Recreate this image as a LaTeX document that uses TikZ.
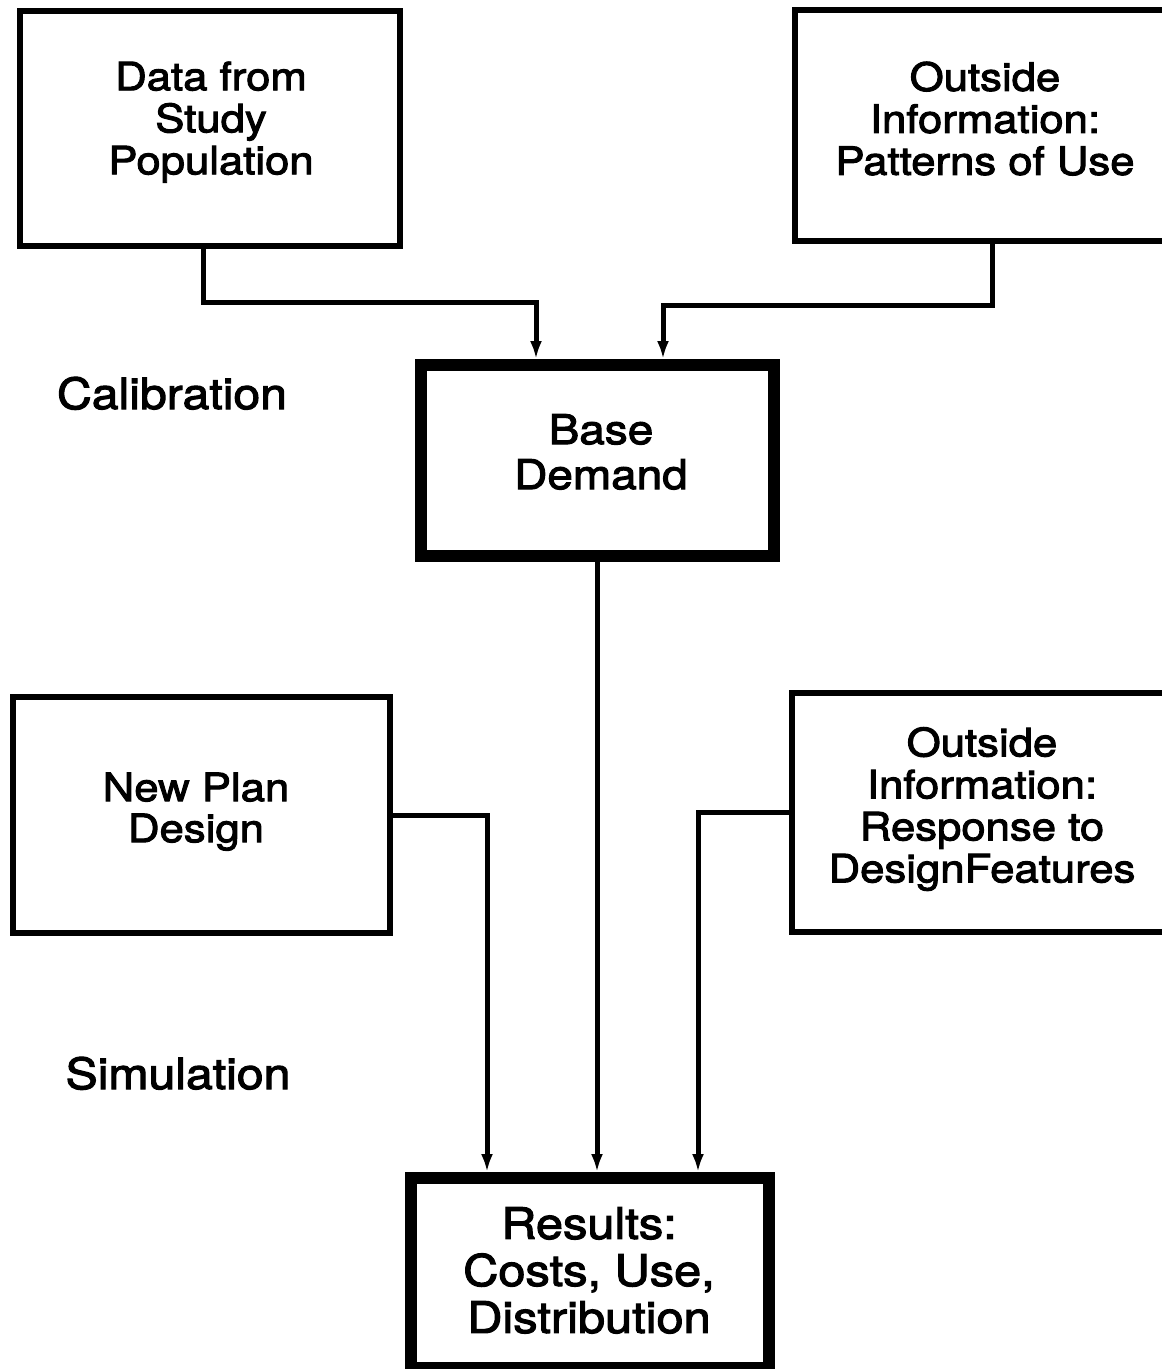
\documentclass[tikz,border=0pt]{standalone}
\usepackage{fontspec}
\setmainfont{TeX Gyre Heros}[FakeStretch=1.12,FakeBold=2.5]
\usetikzlibrary{arrows.meta}
\begin{document}
\begin{tikzpicture}[x=1pt,y=-1pt,
  thinbox/.style={draw, line width=5.5pt, inner sep=0pt},
  thickbox/.style={draw, line width=12pt, inner sep=0pt},
  conn/.style={line width=5pt, -{Latex[length=18pt,width=12pt]}},
  boxtext/.style={align=center, inner sep=0pt, anchor=north},
  sidelabel/.style={inner sep=0pt, anchor=base, font=\fontsize{43}{47}\selectfont}]
\useasboundingbox (0,0) rectangle (1162,1369);
\clip (0,0) rectangle (1162,1369);
% boxes
\node[thinbox, minimum width=380pt, minimum height=235pt] (data) at (210,128.5) {};
\node[thinbox, minimum width=373pt, minimum height=231pt] (pat) at (981.5,125.5) {};
\node[thickbox, minimum width=353pt, minimum height=191pt] (base) at (597.5,460.5) {};
\node[thinbox, minimum width=377pt, minimum height=236pt] (plan) at (201.5,815) {};
\node[thinbox, minimum width=376pt, minimum height=239pt] (resp) at (980,812.5) {};
\node[thickbox, minimum width=358pt, minimum height=190pt] (res) at (590,1273) {};
% texts
\node[boxtext, font=\fontsize{39}{42}\selectfont] (tdata) at (211,61.5) {Data from\\Study\\Population};
\node[boxtext, font=\fontsize{39}{42}\selectfont] (tpat) at (985,61.5) {Outside\\Information:\\Patterns of Use};
\node[boxtext, font=\fontsize{41}{45}\selectfont] (tbase) at (601,414) {Base\\Demand};
\node[boxtext, font=\fontsize{39}{41}\selectfont] (tplan) at (196,772.5) {New Plan\\Design};
\node[boxtext, font=\fontsize{39}{42}\selectfont] (tresp) at (982,727) {Outside\\Information:\\Response to\\DesignFeatures};
\node[boxtext, font=\fontsize{43.5}{47}\selectfont] (tres) at (589,1207) {Results:\\Costs, Use,\\Distribution};
\node[sidelabel] (calib) at (172,409) {Calibration};
\node[sidelabel] (simul) at (178,1089) {Simulation};
% routing coordinates
\coordinate (a1) at (203,0);
\coordinate (h1) at (536,302);
\coordinate (a2) at (992,0);
\coordinate (h2) at (663,305);
\coordinate (v0) at (597,0);
\coordinate (v1) at (487,0);
\coordinate (v2) at (698,0);
% connectors
\draw[conn] (data.south -| a1) |- (h1) -- (base.north -| h1);
\draw[conn] (pat.south -| a2) |- (h2) -- (base.north -| h2);
\draw[conn] (base.south -| v0) -- (res.north -| v0);
\draw[conn] (plan.east) -| (res.north -| v1);
\draw[conn] (resp.west) -| (res.north -| v2);
\end{tikzpicture}
\end{document}
